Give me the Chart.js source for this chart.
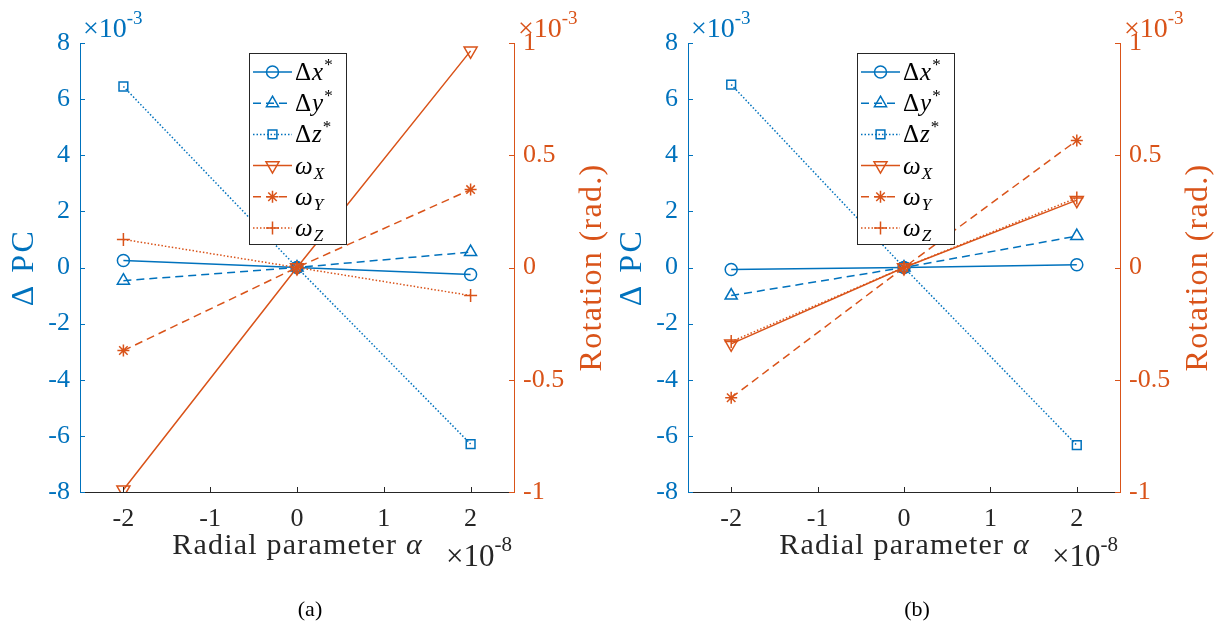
<!DOCTYPE html>
<html><head><meta charset="utf-8">
<script src="https://cdn.jsdelivr.net/npm/chart.js@4/dist/chart.umd.min.js"></script>
<style>
body{margin:0;background:#fff}
#wrap{position:relative;width:1225px;height:628px;background:#fff}
canvas{position:absolute;top:0}
</style></head>
<body><div id="wrap">
<canvas id="ca" width="612" height="628" style="left:0px"></canvas>
<canvas id="cb" width="613" height="628" style="left:612px"></canvas>
</div>
<script>
// ---- data (alpha in 1e-8, PC in 1e-3, rotation in 1e-3 rad) ----
const alphaValues = [-2, 0, 2];
const xTicks = [-2, -1, 0, 1, 2];
const pcTicks = [-8, -6, -4, -2, 0, 2, 4, 6, 8];
const rotTicks = [-1, -0.5, 0, 0.5, 1];
const seriesLabels = ['Δx*', 'Δy*', 'Δz*', 'ωX', 'ωY', 'ωZ'];

// (a)
const dxA = [0.25, 0, -0.25];
const dyA = [-0.47, 0, 0.55];
const dzA = [6.45, 0, -6.29];
const wxA = [-0.99, 0, 0.965];
const wyA = [-0.37, 0, 0.347];
const wzA = [0.125, 0, -0.125];
// (b)
const dxB = [-0.07, 0, 0.1];
const dyB = [-1.0, 0, 1.12];
const dzB = [6.52, 0, -6.33];
const wxB = [-0.34, 0, 0.30];
const wyB = [-0.58, 0, 0.566];
const wzB = [-0.33, 0, 0.31];

const BLUE = '#0072BD', ORANGE = '#D95319', DARK = '#262626';
const SERIF = "'Liberation Serif', 'Times New Roman', serif";

const styles = [
  {color: BLUE, dash: [], pointStyle: 'circle', rot: 0, r: 6, axis: 'y'},
  {color: BLUE, dash: [8, 5], pointStyle: 'triangle', rot: 0, r: 7, axis: 'y'},
  {color: BLUE, dash: [1.5, 2], pointStyle: 'rect', rot: 0, r: 6.2, axis: 'y'},
  {color: ORANGE, dash: [], pointStyle: 'triangle', rot: 180, r: 7.5, axis: 'y1'},
  {color: ORANGE, dash: [8, 5], pointStyle: 'star', rot: 0, r: 6, axis: 'y1'},
  {color: ORANGE, dash: [1.5, 2], pointStyle: 'cross', rot: 0, r: 6.5, axis: 'y1'}
];

function buildDatasets(seriesList) {
  return seriesList.map((vals, i) => {
    const s = styles[i];
    return {
      label: seriesLabels[i],
      data: alphaValues.map((a, k) => ({x: a, y: vals[k]})),
      yAxisID: s.axis,
      borderColor: s.color,
      backgroundColor: 'rgba(0,0,0,0)',
      borderWidth: 1.5,
      borderDash: s.dash,
      pointStyle: s.pointStyle,
      pointRotation: s.rot,
      pointRadius: s.r,
      pointBorderWidth: 1.5,
      pointBorderColor: s.color,
      pointBackgroundColor: 'rgba(0,0,0,0)',
      tension: 0,
      order: s.axis === 'y1' ? 0 : 1
    };
  });
}

function drawParts(ctx, parts, x, y, align) {
  let total = 0;
  parts.forEach(p => { ctx.font = p.font; ctx.letterSpacing = p.ls || '0px'; p.w = ctx.measureText(p.text).width; total += p.w; });
  let cx = align === 'center' ? x - total / 2 : (align === 'right' ? x - total : x);
  ctx.textAlign = 'left'; ctx.textBaseline = 'alphabetic';
  parts.forEach(p => {
    ctx.font = p.font; ctx.letterSpacing = p.ls || '0px';
    ctx.fillStyle = p.color || ctx.fillStyle;
    ctx.fillText(p.text, cx, y + (p.dy || 0));
    cx += p.w;
  });
  ctx.letterSpacing = '0px';
}

function exponent(ctx, text, sup, x, y, color, size) {
  drawParts(ctx, [
    {text: text, font: `${size}px ${SERIF}`, color},
    {text: sup, font: `${Math.round(size * 0.68)}px ${SERIF}`, dy: -Math.round(size * 0.48), color}
  ], x, y, 'left');
}

function legendParts(label) {
  const big = `25px ${SERIF}`, bigI = `italic 25px ${SERIF}`, small = `17px ${SERIF}`, smallI = `italic 17px ${SERIF}`;
  if (label[0] === 'Δ') {
    return [
      {text: 'Δ', font: big, ls: '1px'},
      {text: label[1], font: bigI, ls: '1px'},
      {text: label[2], font: small, dy: -10}
    ];
  }
  return [
    {text: label[0], font: bigI, ls: '1px'},
    {text: label[1], font: smallI, dy: 5}
  ];
}

const decor = {
  id: 'decor',
  afterDraw(chart, args, opts) {
    const ctx = chart.ctx, a = chart.chartArea;
    const sx = chart.scales.x, sy = chart.scales.y, sr = chart.scales.y1;
    ctx.save();
    // inward tick marks
    ctx.lineWidth = 1;
    ctx.strokeStyle = BLUE;
    sy.ticks.forEach(t => { const p = Math.round(sy.getPixelForValue(t.value)) + 0.5; ctx.beginPath(); ctx.moveTo(a.left, p); ctx.lineTo(a.left + 5, p); ctx.stroke(); });
    ctx.strokeStyle = ORANGE;
    sr.ticks.forEach(t => { const p = Math.round(sr.getPixelForValue(t.value)) + 0.5; ctx.beginPath(); ctx.moveTo(a.right, p); ctx.lineTo(a.right - 5, p); ctx.stroke(); });
    ctx.strokeStyle = DARK;
    sx.ticks.forEach(t => { const p = Math.round(sx.getPixelForValue(t.value)) + 0.5; ctx.beginPath(); ctx.moveTo(p, a.bottom); ctx.lineTo(p, a.bottom - 5); ctx.stroke(); });

    const cy = (a.top + a.bottom) / 2;
    // left axis title
    ctx.save();
    ctx.translate(a.left - 58, cy);
    ctx.rotate(-Math.PI / 2);
    drawParts(ctx, [{text: 'Δ PC', font: `32px ${SERIF}`, ls: '2.5px', color: BLUE}], 0, 11, 'center');
    ctx.restore();
    // right axis title
    ctx.save();
    ctx.translate(a.right + 77, cy);
    ctx.rotate(-Math.PI / 2);
    drawParts(ctx, [{text: 'Rotation (rad.)', font: `32px ${SERIF}`, ls: '1.3px', color: ORANGE}], 0, 10, 'center');
    ctx.restore();
    // x title
    const cx = (a.left + a.right) / 2;
    drawParts(ctx, [
      {text: 'Radial parameter ', font: `30px ${SERIF}`, ls: '1.2px', color: DARK},
      {text: 'α', font: `italic 30px ${SERIF}`, color: DARK}
    ], cx, 554, 'center');
    // exponents
    exponent(ctx, '×10', '-8', a.right - 68, 566, DARK, 31);
    exponent(ctx, '×10', '-3', a.left + 3, 37, BLUE, 28);
    exponent(ctx, '×10', '-3', a.right + 4, 37, ORANGE, 28);
    // caption
    drawParts(ctx, [{text: opts.caption, font: `22px ${SERIF}`, color: '#000'}], cx + 13, 616, 'center');

    // legend
    const lx = a.left + 169, ly = 53, lw = 97, lh = 191;
    ctx.fillStyle = '#fff';
    ctx.fillRect(lx, ly, lw, lh);
    ctx.strokeStyle = DARK; ctx.lineWidth = 1; ctx.setLineDash([]);
    ctx.strokeRect(lx + 0.5, ly + 0.5, lw, lh);
    chart.data.datasets.forEach((ds, i) => {
      const ry = 72 + i * 31.2;
      ctx.strokeStyle = ds.borderColor; ctx.lineWidth = 1.5;
      ctx.setLineDash(ds.borderDash);
      ctx.beginPath(); ctx.moveTo(lx + 4, ry); ctx.lineTo(lx + 43, ry); ctx.stroke();
      ctx.setLineDash([]);
      ctx.fillStyle = 'rgba(0,0,0,0)';
      Chart.helpers.drawPoint(ctx, {pointStyle: ds.pointStyle, rotation: ds.pointRotation, radius: ds.pointRadius, borderWidth: 1.5}, lx + 23.5, ry);
      drawParts(ctx, legendParts(ds.label).map(p => Object.assign(p, {color: '#000'})), lx + 46, ry + 8, 'left');
    });
    ctx.restore();
  }
};

function makeChart(id, seriesList, leftW, rightW, caption) {
  const tickFont = {family: SERIF, size: 26};
  return new Chart(document.getElementById(id), {
    type: 'line',
    data: {datasets: buildDatasets(seriesList)},
    options: {
      responsive: false, animation: false, devicePixelRatio: 1,
      layout: {padding: {top: 43, left: 0, right: 0, bottom: 0}},
      plugins: {legend: {display: false}, tooltip: {enabled: false}, decor: {caption}},
      scales: {
        x: {
          type: 'linear', position: 'bottom', min: -2.5, max: 2.5,
          afterBuildTicks: s => { s.ticks = xTicks.map(v => ({value: v})); },
          afterFit: s => { s.height = 136; },
          grid: {display: false, drawTicks: false},
          border: {display: true, color: DARK, width: 1},
          ticks: {color: DARK, font: tickFont, padding: 12, maxRotation: 0, autoSkip: false, callback: v => String(v)}
        },
        y: {
          type: 'linear', position: 'left', min: -8, max: 8,
          afterBuildTicks: s => { s.ticks = pcTicks.map(v => ({value: v})); },
          afterFit: s => { s.width = leftW; },
          grid: {display: false, drawTicks: false},
          border: {display: true, color: BLUE, width: 1},
          ticks: {color: BLUE, font: tickFont, padding: 10, autoSkip: false, callback: v => String(v)}
        },
        y1: {
          type: 'linear', position: 'right', min: -1, max: 1,
          afterBuildTicks: s => { s.ticks = rotTicks.map(v => ({value: v})); },
          afterFit: s => { s.width = rightW; },
          grid: {display: false, drawTicks: false},
          border: {display: true, color: ORANGE, width: 1},
          ticks: {color: ORANGE, font: tickFont, padding: 9, autoSkip: false, callback: v => String(v)}
        }
      }
    },
    plugins: [decor]
  });
}

makeChart('ca', [dxA, dyA, dzA, wxA, wyA, wzA], 80, 98, '(a)');
makeChart('cb', [dxB, dyB, dzB, wxB, wyB, wzB], 76, 105, '(b)');
</script>
</body></html>
